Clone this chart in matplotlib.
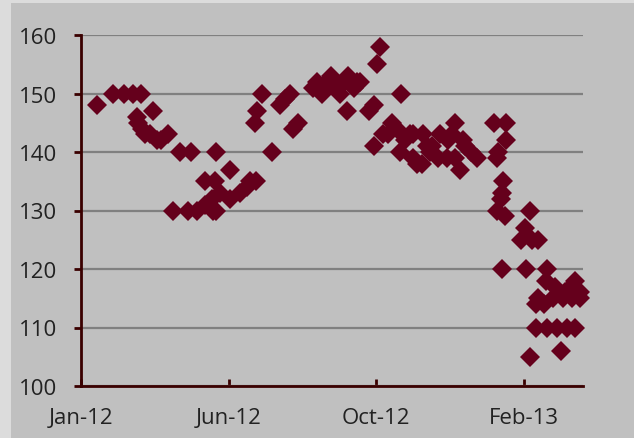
import datetime as dt
import matplotlib
matplotlib.use('Agg')
import matplotlib.pyplot as plt
from matplotlib.patches import Rectangle

# axis starts at this date, ticks every 130 days (Jan-12, Jun-12, Oct-12, Feb-13)
start = dt.date(2012, 1, 25)
tick_step = 130
axis_days = 442

# days after start
days = [14, 28, 38, 46, 53, 49, 50, 54, 56, 61, 63, 67, 70, 77, 87, 97,
        81, 94, 102, 116, 119, 109, 118, 131, 115, 122, 131, 140, 146, 109, 119,
        154, 149, 153, 155, 159, 168, 175, 180, 184, 187, 191,
        204, 208, 212, 217, 220, 224, 228, 232, 235, 240, 243, 246, 234,
        254, 258, 261, 263, 258, 274, 270, 282, 266, 281, 278, 285, 290, 292, 292,
        296, 300, 301, 305, 307, 314, 316, 322, 329, 329, 334, 336, 343, 349,
        323, 327, 338, 309,
        364, 374, 374, 367, 366, 372, 371, 370, 366, 373, 395, 391, 387, 397, 402,
        371, 392, 410, 409, 417, 435, 439, 402, 401, 416, 424, 432, 431,
        401, 410, 419, 428, 435, 395, 423, 439, 426, 408]
price = [148, 150, 150, 150, 150, 146, 145, 144, 143, 143, 147, 142, 142, 143, 140, 140,
         130, 130, 130, 130, 140, 135, 135, 137, 132, 133, 132, 133, 134, 131, 130,
         135, 135, 145, 147, 150, 140, 148, 149, 150, 144, 145,
         151, 152, 150, 152, 153, 151, 150, 152, 153, 151, 152, 152, 147,
         147, 148, 155, 158, 141, 145, 143, 150, 143, 140, 144, 142, 143, 139, 143,
         138, 138, 143, 141, 140, 139, 143, 139, 145, 139, 137, 142, 140, 139,
         142, 143, 141, 141,
         145, 145, 142, 140, 139, 135, 133, 132, 130, 129, 130, 127, 125, 125, 125,
         120, 120, 120, 118, 117, 118, 116, 115, 114, 115, 115, 115, 117,
         110, 110, 110, 110, 110, 105, 106, 115, 116, 114]

dates = [start + dt.timedelta(days=d) for d in days]
ticks = [start + dt.timedelta(days=tick_step * k) for k in range(4)]
tick_labels = [t.strftime('%b-%y') for t in ticks]

plt.rcParams['font.family'] = ['Open Sans', 'DejaVu Sans']

fig = plt.figure(figsize=(6.34, 4.39), dpi=100)
fig.patch.set_facecolor('#dcdcdc')
fig.patches.append(Rectangle((11 / 634, 0), 1, 1 - 4 / 439, transform=fig.transFigure,
                             facecolor='#c0c0c0', edgecolor='none', zorder=-10))

ax = fig.add_axes([81 / 634, 1 - 387 / 439, (583 - 81) / 634, (387 - 36) / 439])
ax.set_facecolor('#c0c0c0')

ax.plot(dates, price, linestyle='none', marker='D', markersize=10.3,
        color='#65001c', markeredgewidth=0, clip_on=False, zorder=3)

ax.set_ylim(100, 160)
ax.set_yticks(range(100, 161, 10))
ax.set_xlim(start, start + dt.timedelta(days=axis_days))
ax.set_xticks(ticks)
ax.set_xticklabels(tick_labels)

ax.yaxis.grid(True, color='#808080', linewidth=1.6)
ax.set_axisbelow(True)
for s in ['top', 'right']:
    ax.spines[s].set_visible(False)
for s in ['left', 'bottom']:
    ax.spines[s].set_color('#3a0000')
    ax.spines[s].set_linewidth(2)

ax.tick_params(axis='y', direction='out', length=5, width=2, color='#3a0000',
               pad=12, labelsize=16, labelcolor='#222222')
ax.tick_params(axis='x', direction='in', length=5, width=2, color='#3a0000',
               pad=15, labelsize=16, labelcolor='#222222')

fig.savefig('out.png', dpi=100, facecolor=fig.get_facecolor())
